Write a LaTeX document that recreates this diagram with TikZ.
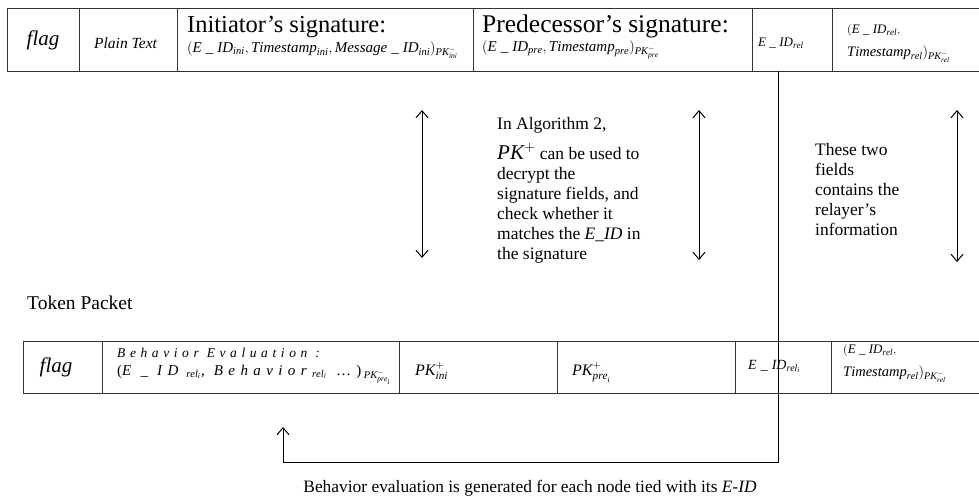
\documentclass[tikz,border=0pt]{standalone}
\usepackage{fontspec}
\usepackage{amsmath}
\setmainfont{Liberation Serif}
\usetikzlibrary{arrows.meta}
\newcommand\mi[1]{\mathit{#1}}
\newcommand\fs[1]{\fontsize{#1}{#1}\selectfont}
\newcommand\eid{\mi{E\;\_\;ID}}
\tikzset{
  tbl/.style={line width=1pt, draw=black!80},
  conn/.style={line width=1pt, draw=black},
  dbl/.style={line width=1pt, {Straight Barb[length=7pt,width=12pt]}-{Straight Barb[length=7pt,width=12pt]}},
  up/.style={line width=1pt, -{Straight Barb[length=7pt,width=12pt]}},
  txt/.style={inner sep=0pt, anchor=base west},
  note/.style={inner sep=0pt, anchor=north west, align=left, font=\fontsize{17.5}{20}\selectfont},
}
\begin{document}
\begin{tikzpicture}[x=1pt,y=-1pt]
\useasboundingbox (0,0) rectangle (979,498);
% top table
\draw[tbl] (7,8) -- (979,8) (7,71) -- (979,71) (7,8) -- (7,71);
\foreach \x in {79,177,473,752,832} \draw[tbl] (\x,8) -- (\x,71);
% bottom table
\draw[tbl] (23,341) -- (979,341) (23,393) -- (979,393) (23,341) -- (23,393);
\foreach \x in {102,399,557,735,831} \draw[tbl] (\x,341) -- (\x,393);

% top row texts
\node[inner sep=0pt, font=\fs{21}\itshape] (tflag) at (43,40) {flag};
\node[txt, font=\fs{15.5}\itshape] (tplain) at (94,48) {Plain Text};
\node[txt, font=\fs{24.5}] (tinih) at (187,32) {Initiator’s signature:};
\node[txt, font=\fs{15}] (tinif) at (187,52) {$(\eid_{\mi{ini}},\mi{Timestamp}_{\mi{ini}},\mi{Message\;\_\;ID}_{\mi{ini}})_{\mi{PK}^{-}_{\mi{ini}}}$};
\node[txt, font=\fs{25.5}] (tpreh) at (482,32) {Predecessor’s signature:};
\node[txt, font=\fs{15}] (tpref) at (482,51) {$(\eid_{\mi{pre}},\mi{Timestamp}_{\mi{pre}})_{\mi{PK}^{-}_{\mi{pre}}}$};
\node[txt, font=\fs{13}] (teid) at (758,46) {$\eid_{\mi{rel}}$};
\node[txt, font=\fs{13}] (trel1) at (847,33) {$(\eid_{\mi{rel}},$};
\node[txt, font=\fs{14.5}] (trel2) at (847,56) {$\mi{Timestamp}_{\mi{rel}})_{\mi{PK}^{-}_{\mi{rel}}}$};

% annotations
\node[note] (noteA) at (497,117) {In Algorithm 2,\\[9pt]
  {\fs{21}$\mi{PK}^{+}$} can be used to\\
  decrypt the\\
  signature fields, and\\
  check whether it\\
  matches the \textit{E\_ID} in\\
  the signature};
\node[note] (noteB) at (815,143) {These two\\fields\\contains the\\relayer’s\\information};
\coordinate (a1t) at (422,110); \coordinate (a1b) at (422,258);
\coordinate (a2t) at (699,110); \coordinate (a2b) at (699,260);
\coordinate (a3t) at (957,110); \coordinate (a3b) at (957,262);
\draw[dbl] (a1t) -- (a1b);
\draw[dbl] (a2t) -- (a2b);
\draw[dbl] (a3t) -- (a3b);

\node[txt, font=\fs{19.5}] (token) at (27,309) {Token Packet};

% bottom row texts
\node[inner sep=0pt, font=\fs{21}\itshape] (bflag) at (56,367) {flag};
\node[txt, font=\fs{13.5}\itshape\addfontfeatures{LetterSpace=34}] (bbeh1) at (117,357) {Behavior Evaluation :};
\node[txt, font=\fs{15}\addfontfeatures{LetterSpace=36}] (bbeh2) at (117,375) {(\textit{E \_ ID}\,$_{\mi{rel}_{\mi{i}}}$, \textit{Behavior}$_{\mi{rel}_{\mi{i}}}$ …)\,$_{\mi{PK}^{-}_{\mi{pre}_{\mi{i}}}}$};
\node[txt, font=\fs{16}] (bpkini) at (415,375) {$\mi{PK}^{+}_{\mi{ini}}$};
\node[txt, font=\fs{16}] (bpkpre) at (572,375) {$\mi{PK}^{+}_{\mi{pre}_{\mi{i}}}$};
\node[txt, font=\fs{14}] (beid) at (748,369) {$\eid_{\mi{rel}_{\mi{i}}}$};
\node[txt, font=\fs{13}] (brel1) at (843,353) {$(\eid_{\mi{rel}},$};
\node[txt, font=\fs{14.5}] (brel2) at (843,376) {$\mi{Timestamp}_{\mi{rel}})_{\mi{PK}^{-}_{\mi{rel}}}$};

% feedback connector
\coordinate (ctop) at (778,71);
\coordinate (cbr) at (778,462);
\coordinate (cbl) at (283,462);
\coordinate (cup) at (283,427);
\draw[conn] (ctop) -- (cbr) -- (cbl);
\draw[up] (cbl) -- (cup);
\node[inner sep=0pt, font=\fs{17.4}] (caption) at (530,488) {Behavior evaluation is generated for each node tied with its \textit{E-ID}};
\end{tikzpicture}
\end{document}
